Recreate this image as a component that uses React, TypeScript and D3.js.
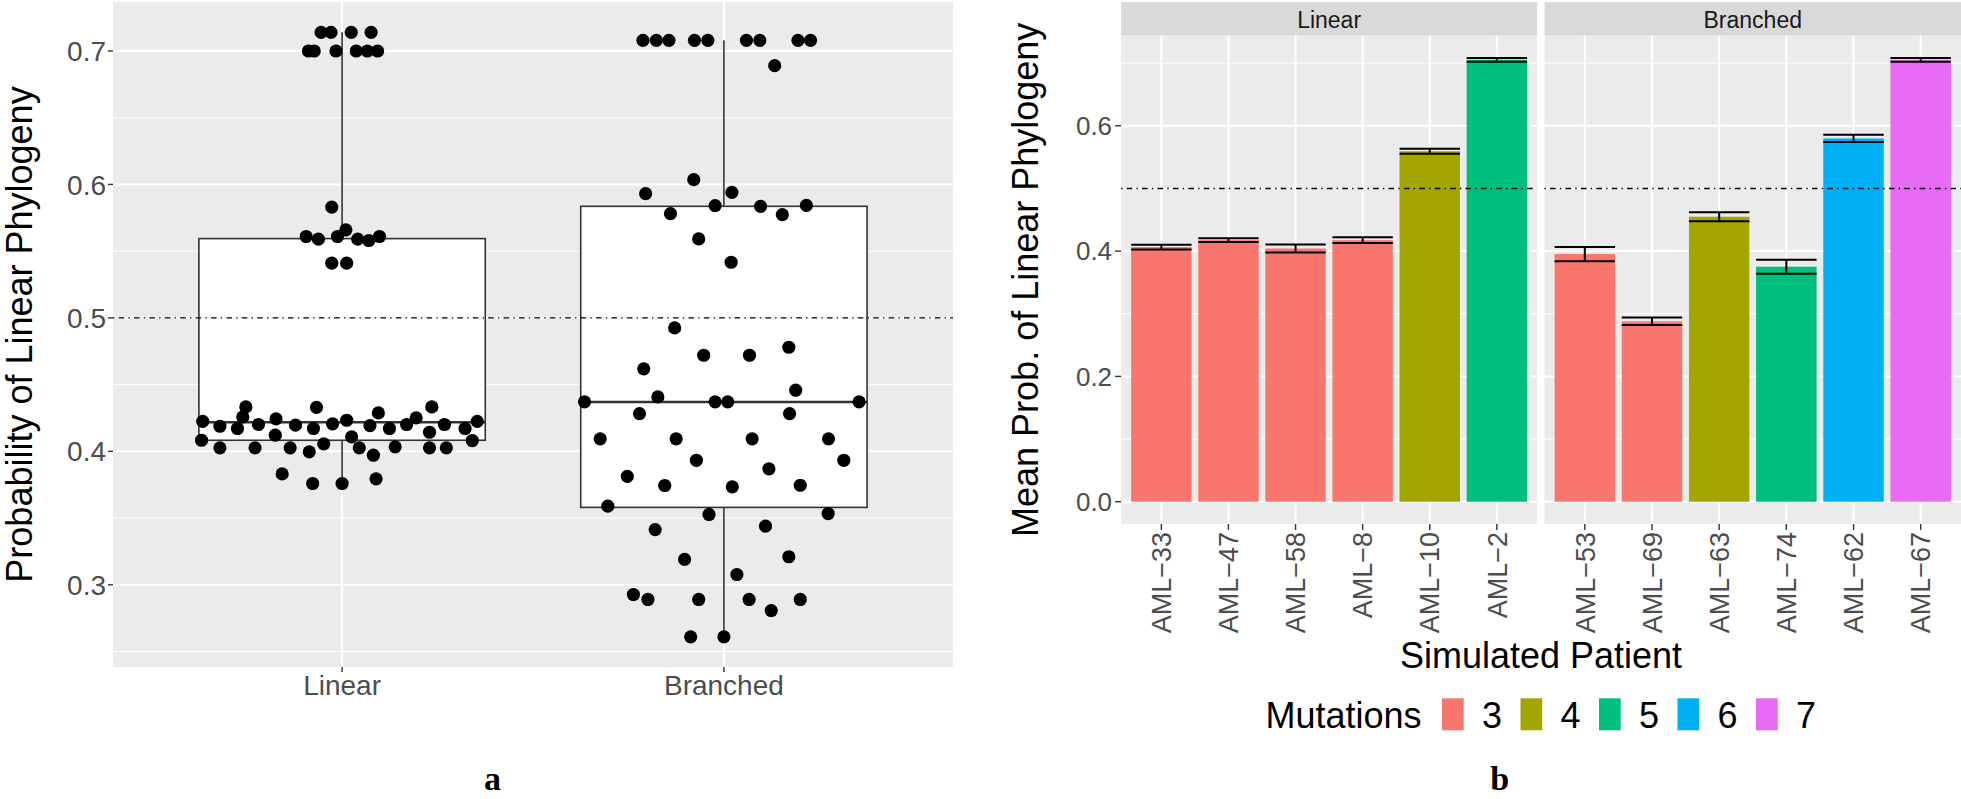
import React from "react";
import * as d3 from "d3";

// ---------- Panel a: box plot data ----------
const BOX_CATEGORIES = ["Linear", "Branched"];
const BOX_Y_TICKS = [0.3, 0.4, 0.5, 0.6, 0.7];
const BOX_Y_MINOR = [0.25, 0.35, 0.45, 0.55, 0.65];
const BOX_Y_DOMAIN = [0.2384, 0.7367];
const BOX_REF_LINE = 0.5;

// [jitter offset (category units), probability]
const LINEAR_POINTS: [number, number][] = [
  [-0.055, 0.714], [-0.029, 0.714], [0.024, 0.714], [0.076, 0.714],
  [-0.088, 0.7], [-0.073, 0.7], [-0.016, 0.7], [0.037, 0.7], [0.066, 0.7], [0.093, 0.7],
  [-0.027, 0.583],
  [-0.094, 0.561], [-0.062, 0.559], [-0.012, 0.561], [0.01, 0.566], [0.041, 0.559], [0.07, 0.558], [0.098, 0.561],
  [-0.027, 0.541], [0.012, 0.541],
  [-0.365, 0.4225], [-0.368, 0.4083], [-0.32, 0.4188], [-0.32, 0.4026], [-0.274, 0.4171],
  [-0.26, 0.4258], [-0.252, 0.4333], [-0.219, 0.4201], [-0.228, 0.4026], [-0.173, 0.4243],
  [-0.175, 0.4121], [-0.157, 0.3831], [-0.122, 0.4196], [-0.136, 0.4026], [-0.067, 0.433],
  [-0.075, 0.4171], [-0.086, 0.3996], [-0.077, 0.3759], [-0.048, 0.4056], [-0.025, 0.4206],
  [0.012, 0.4233], [0.025, 0.4109], [0.0, 0.3759], [0.045, 0.4026], [0.073, 0.4193],
  [0.095, 0.4288], [0.082, 0.3971], [0.089, 0.3794], [0.124, 0.4171], [0.139, 0.4034],
  [0.169, 0.4201], [0.194, 0.4251], [0.235, 0.4333], [0.229, 0.4143], [0.229, 0.4026],
  [0.268, 0.4201], [0.273, 0.4026], [0.322, 0.4171], [0.354, 0.4225], [0.341, 0.4081],
];

const BRANCHED_POINTS: [number, number][] = [
  [-0.212, 0.708], [-0.177, 0.708], [-0.144, 0.708], [-0.077, 0.708], [-0.042, 0.708],
  [0.059, 0.708], [0.094, 0.708], [0.194, 0.708], [0.227, 0.708],
  [0.133, 0.689],
  [-0.079, 0.6036], [-0.205, 0.5931], [0.021, 0.5941], [-0.023, 0.5841], [-0.14, 0.5781],
  [0.096, 0.5836], [0.153, 0.5774], [0.216, 0.5843],
  [-0.066, 0.5592], [0.019, 0.5417],
  [-0.129, 0.4925], [-0.053, 0.472], [0.067, 0.472], [0.17, 0.478], [-0.21, 0.4618], [0.188, 0.4458],
  [-0.365, 0.4371], [-0.173, 0.4408], [-0.023, 0.4371], [0.01, 0.4371], [0.354, 0.4371],
  [-0.221, 0.4283], [0.172, 0.4283],
  [-0.324, 0.4094], [-0.125, 0.4094], [0.074, 0.4094], [0.274, 0.4094],
  [-0.072, 0.3933], [0.314, 0.3933], [0.118, 0.3869],
  [-0.253, 0.3813], [-0.155, 0.3744], [0.022, 0.3734], [0.2, 0.3746],
  [-0.304, 0.3589], [-0.039, 0.3527], [0.273, 0.3534],
  [-0.18, 0.3414], [0.109, 0.3439],
  [-0.103, 0.319], [0.17, 0.321], [0.034, 0.3077],
  [-0.237, 0.2927], [-0.199, 0.289], [-0.066, 0.289], [0.066, 0.289], [0.124, 0.2807], [0.2, 0.289],
  [-0.087, 0.261], [0.0, 0.261],
];

const BOX_LOWER = [0.376, 0.261];
const BOX_Q1 = [0.4083, 0.358];
const BOX_MEDIAN = [0.4218, 0.437];
const BOX_Q3 = [0.5594, 0.5836];
const BOX_UPPER = [0.714, 0.708];

// ---------- Panel b: bar chart data ----------
const FACETS = ["Linear", "Branched"];
const LINEAR_PATIENTS = ["AML\u221233", "AML\u221247", "AML\u221258", "AML\u22128", "AML\u221210", "AML\u22122"];
const LINEAR_MEANS = [0.4064, 0.4175, 0.4041, 0.4175, 0.5593, 0.7054];
const LINEAR_SE = [0.0038, 0.003, 0.0065, 0.0046, 0.004, 0.003];
const LINEAR_MUT = [3, 3, 3, 3, 4, 5];
const BRANCHED_PATIENTS = ["AML\u221253", "AML\u221269", "AML\u221263", "AML\u221274", "AML\u221262", "AML\u221267"];
const BRANCHED_MEANS = [0.3953, 0.2879, 0.4549, 0.3751, 0.5799, 0.7054];
const BRANCHED_SE = [0.0114, 0.006, 0.0072, 0.0112, 0.0057, 0.003];
const BRANCHED_MUT = [3, 3, 4, 5, 6, 7];
const BAR_Y_TICKS = [0.0, 0.2, 0.4, 0.6];
const BAR_Y_MINOR = [0.1, 0.3, 0.5, 0.7];
const BAR_Y_DOMAIN = [-0.0354, 0.7438];
const BAR_REF_LINE = 0.5;
const MUT_LEVELS = [3, 4, 5, 6, 7];
const MUT_COLORS = ["#F8766D", "#A3A500", "#00BF7D", "#00B0F6", "#E76BF3"];

const SANS = "'Liberation Sans', Arial, Helvetica, sans-serif";
const SERIF = "'Liberation Serif', 'DejaVu Serif', serif";
const PANEL_BG = "#EBEBEB";
const TICK_COL = "#4D4D4D";
const AXIS_COL = "#333333";
const DOTDASH = "1.4 4.2 5.6 4.2";

function BoxPanel() {
  const x0 = 113, x1 = 953, y0 = 2, y1 = 667;
  const x = d3.scalePoint<string>().domain(BOX_CATEGORIES).range([x0, x1]).padding(0.6);
  const step = x.step();
  const y = d3.scaleLinear().domain(BOX_Y_DOMAIN).range([y1, y0]);
  const groups = [LINEAR_POINTS, BRANCHED_POINTS];
  const bw = step * 0.75;
  return (
    <g>
      <rect x={x0} y={y0} width={x1 - x0} height={y1 - y0} fill={PANEL_BG} />
      {BOX_Y_MINOR.map((t) => (
        <line key={"m" + t} x1={x0} x2={x1} y1={y(t)} y2={y(t)} stroke="#fff" strokeWidth={1} />
      ))}
      {BOX_Y_TICKS.map((t) => (
        <line key={"M" + t} x1={x0} x2={x1} y1={y(t)} y2={y(t)} stroke="#fff" strokeWidth={2} />
      ))}
      {BOX_CATEGORIES.map((c) => (
        <line key={"v" + c} x1={x(c)} x2={x(c)} y1={y0} y2={y1} stroke="#fff" strokeWidth={2} />
      ))}
      {BOX_CATEGORIES.map((c, i) => {
        const cx = x(c)!;
        return (
          <g key={"box" + c}>
            <line x1={cx} x2={cx} y1={y(BOX_UPPER[i])} y2={y(BOX_Q3[i])} stroke={AXIS_COL} strokeWidth={1.6} />
            <line x1={cx} x2={cx} y1={y(BOX_Q1[i])} y2={y(BOX_LOWER[i])} stroke={AXIS_COL} strokeWidth={1.6} />
            <rect x={cx - bw / 2} y={y(BOX_Q3[i])} width={bw} height={y(BOX_Q1[i]) - y(BOX_Q3[i])} fill="#fff" stroke={AXIS_COL} strokeWidth={1.6} />
            <line x1={cx - bw / 2} x2={cx + bw / 2} y1={y(BOX_MEDIAN[i])} y2={y(BOX_MEDIAN[i])} stroke={AXIS_COL} strokeWidth={2.6} />
          </g>
        );
      })}
      <line x1={x0} x2={x1} y1={y(BOX_REF_LINE)} y2={y(BOX_REF_LINE)} stroke="#000" strokeWidth={1.4} strokeDasharray={DOTDASH} />
      {BOX_CATEGORIES.map((c, i) =>
        groups[i].map((p, j) => (
          <circle key={c + j} cx={x(c)! + p[0] * step} cy={y(p[1])} r={6.6} fill="#000" />
        ))
      )}
      {BOX_Y_TICKS.map((t) => (
        <g key={"yt" + t}>
          <line x1={x0 - 5} x2={x0} y1={y(t)} y2={y(t)} stroke={AXIS_COL} strokeWidth={1.4} />
          <text x={x0 - 7} y={y(t)} dy="0.36em" textAnchor="end" fontFamily={SANS} fontSize={28} fill={TICK_COL}>
            {t.toFixed(1)}
          </text>
        </g>
      ))}
      {BOX_CATEGORIES.map((c) => (
        <g key={"xt" + c}>
          <line x1={x(c)} x2={x(c)} y1={y1} y2={y1 + 5} stroke={AXIS_COL} strokeWidth={1.4} />
          <text x={x(c)} y={695} textAnchor="middle" fontFamily={SANS} fontSize={28} fill={TICK_COL}>
            {c}
          </text>
        </g>
      ))}
      <text transform={`translate(32,${(y0 + y1) / 2}) rotate(-90)`} textAnchor="middle" fontFamily={SANS} fontSize={36} fill="#000">
        Probability of Linear Phylogeny
      </text>
      <text x={492.5} y={790} textAnchor="middle" fontFamily={SERIF} fontWeight="bold" fontSize={34} fill="#000">
        a
      </text>
    </g>
  );
}

function BarPanel() {
  const py0 = 35.7, py1 = 523.9, sy0 = 2.1;
  const panels = [
    { name: FACETS[0], x0: 1121.1, x1: 1537.1, pats: LINEAR_PATIENTS, means: LINEAR_MEANS, se: LINEAR_SE, mut: LINEAR_MUT },
    { name: FACETS[1], x0: 1544.5, x1: 1961, pats: BRANCHED_PATIENTS, means: BRANCHED_MEANS, se: BRANCHED_SE, mut: BRANCHED_MUT },
  ];
  const y = d3.scaleLinear().domain(BAR_Y_DOMAIN).range([py1, py0]);
  const color = d3.scaleOrdinal<number, string>().domain(MUT_LEVELS).range(MUT_COLORS);
  return (
    <g>
      {panels.map((p) => {
        const x = d3.scaleBand<string>().domain(p.pats).range([p.x0, p.x1]).paddingInner(0.1).paddingOuter(0.15);
        const bw = x.bandwidth();
        return (
          <g key={p.name}>
            <rect x={p.x0} y={sy0} width={p.x1 - p.x0} height={py0 - sy0} fill="#D9D9D9" />
            <text x={(p.x0 + p.x1) / 2} y={28.4} textAnchor="middle" fontFamily={SANS} fontSize={23} fill="#1A1A1A">
              {p.name}
            </text>
            <rect x={p.x0} y={py0} width={p.x1 - p.x0} height={py1 - py0} fill={PANEL_BG} />
            {BAR_Y_MINOR.map((t) => (
              <line key={"m" + t} x1={p.x0} x2={p.x1} y1={y(t)} y2={y(t)} stroke="#fff" strokeWidth={1} />
            ))}
            {BAR_Y_TICKS.map((t) => (
              <line key={"M" + t} x1={p.x0} x2={p.x1} y1={y(t)} y2={y(t)} stroke="#fff" strokeWidth={2} />
            ))}
            {p.pats.map((c) => {
              const cx = x(c)! + bw / 2;
              return <line key={"v" + c} x1={cx} x2={cx} y1={py0} y2={py1} stroke="#fff" strokeWidth={2} />;
            })}
            {p.pats.map((c, i) => (
              <rect key={"b" + c} x={x(c)} y={y(p.means[i])} width={bw} height={y(0) - y(p.means[i])} fill={color(p.mut[i])} />
            ))}
            {p.pats.map((c, i) => {
              const cx = x(c)! + bw / 2;
              const hi = y(p.means[i] + p.se[i]);
              const lo = y(p.means[i] - p.se[i]);
              return (
                <g key={"e" + c} stroke="#000" strokeWidth={2}>
                  <line x1={cx} x2={cx} y1={hi} y2={lo} />
                  <line x1={x(c)} x2={x(c)! + bw} y1={hi} y2={hi} />
                  <line x1={x(c)} x2={x(c)! + bw} y1={lo} y2={lo} />
                </g>
              );
            })}
            <line x1={p.x0} x2={p.x1} y1={y(BAR_REF_LINE)} y2={y(BAR_REF_LINE)} stroke="#000" strokeWidth={1.4} strokeDasharray={DOTDASH} />
            {p.pats.map((c) => {
              const cx = x(c)! + bw / 2;
              return (
                <g key={"xt" + c}>
                  <line x1={cx} x2={cx} y1={py1} y2={py1 + 6} stroke={AXIS_COL} strokeWidth={1.4} />
                  <text transform={`translate(${cx},${py1 + 8}) rotate(-90)`} dy="0.36em" textAnchor="end" fontFamily={SANS} fontSize={27} fill={TICK_COL}>
                    {c}
                  </text>
                </g>
              );
            })}
          </g>
        );
      })}
      {BAR_Y_TICKS.map((t) => (
        <g key={"yt" + t}>
          <line x1={panels[0].x0 - 6} x2={panels[0].x0} y1={y(t)} y2={y(t)} stroke={AXIS_COL} strokeWidth={1.4} />
          <text x={panels[0].x0 - 9} y={y(t)} dy="0.36em" textAnchor="end" fontFamily={SANS} fontSize={26} fill={TICK_COL}>
            {t.toFixed(1)}
          </text>
        </g>
      ))}
      <text transform={`translate(1038,${(py0 + py1) / 2}) rotate(-90)`} textAnchor="middle" fontFamily={SANS} fontSize={36} fill="#000">
        Mean Prob. of Linear Phylogeny
      </text>
      <text x={(panels[0].x0 + panels[1].x1) / 2} y={668} textAnchor="middle" fontFamily={SANS} fontSize={36} fill="#000">
        Simulated Patient
      </text>
      <text x={1265.5} y={728.3} fontFamily={SANS} fontSize={36} fill="#000">
        Mutations
      </text>
      {MUT_LEVELS.map((m, i) => (
        <g key={"lg" + m}>
          <rect x={1442 + i * 78.5} y={698.3} width={21.7} height={32} fill={color(m)} />
          <text x={1442 + i * 78.5 + 40} y={728.3} fontFamily={SANS} fontSize={36} fill="#000">
            {m}
          </text>
        </g>
      ))}
      <text x={1499.7} y={790} textAnchor="middle" fontFamily={SERIF} fontWeight="bold" fontSize={34} fill="#000">
        b
      </text>
    </g>
  );
}

export default function App() {
  return (
    <svg width={1961} height={799} style={{ position: "absolute", left: 0, top: 0, background: "#fff" }}>
      <rect x={0} y={0} width={1961} height={799} fill="#fff" />
      <BoxPanel />
      <BarPanel />
    </svg>
  );
}
